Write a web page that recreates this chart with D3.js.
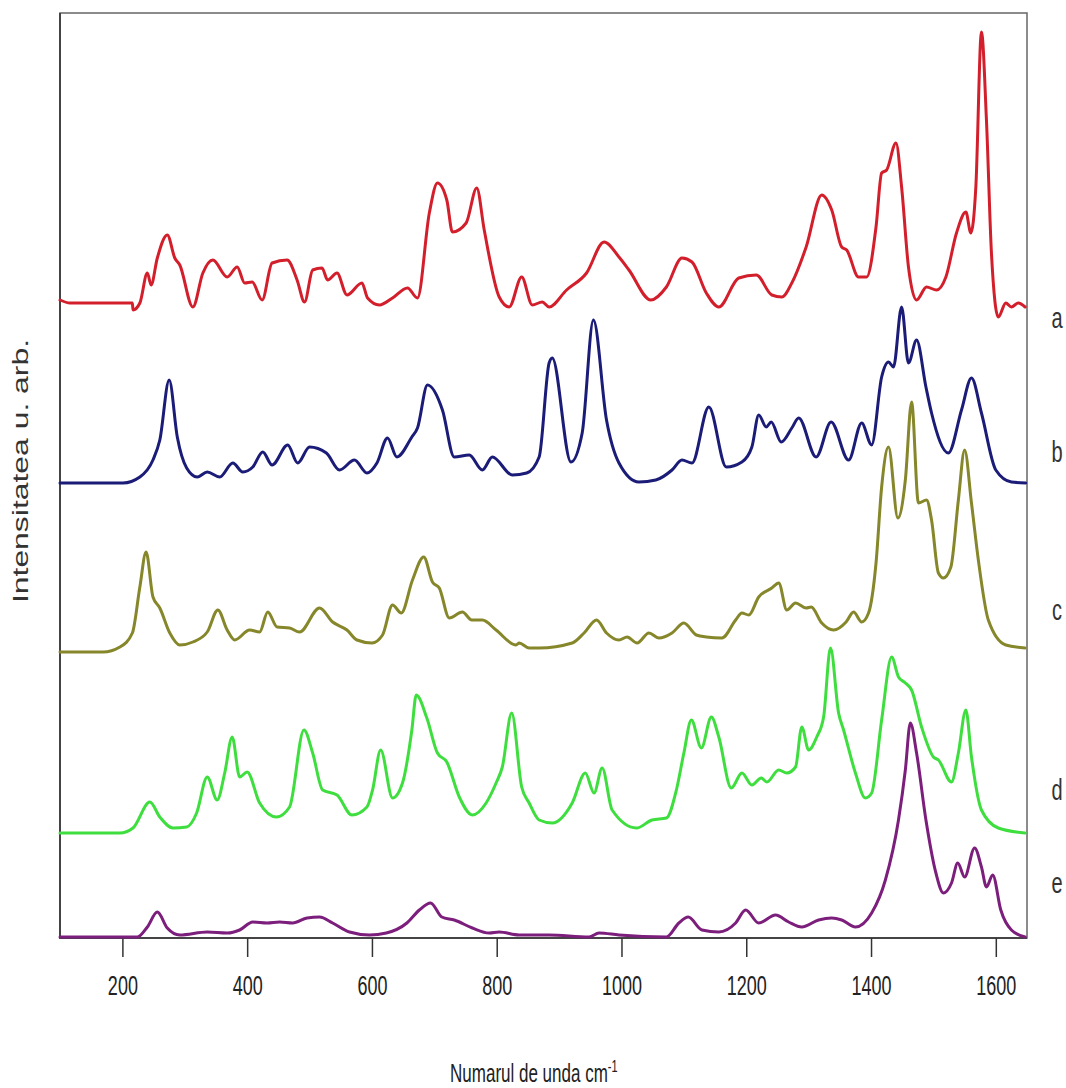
<!DOCTYPE html>
<html>
<head>
<meta charset="utf-8">
<script src="https://cdn.jsdelivr.net/npm/d3@7"></script>
<style>
  body { margin: 0; background: #fff; }
</style>
</head>
<body>
<div id="chart"></div>
<script>
// Raman spectra: [wavenumber cm-1, intensity a.u.]
const specA = [[100,0.3],[116,0],[216,0],[217,-0.7],[228,0],[240,3.0],[246,1.8],[256,4.5],[272,6.8],[284,4.5],[292,3.8],[313,-0.4],[329,3.0],[345,4.3],[368,2.6],[384,3.6],[396,2.0],[408,2.1],[424,0.3],[440,4.0],[464,4.3],[480,2.3],[492,0.1],[505,3.3],[520,3.5],[529,2.3],[544,3.0],[560,0.8],[584,2.0],[593,0.5],[612,-0.2],[633,0.5],[657,1.5],[673,0.5],[692,9.0],[705,12.0],[720,10.3],[729,7.1],[751,8.0],[768,11.5],[780,7.3],[804,0.6],[820,-0.4],[840,2.6],[857,-0.2],[873,0.1],[884,-0.4],[912,1.3],[944,3.0],[972,6.1],[996,4.6],[1012,3.3],[1047,0.3],[1072,1.6],[1097,4.5],[1113,4.1],[1136,1.0],[1156,-0.4],[1188,2.5],[1216,2.8],[1241,0.8],[1257,0.6],[1273,2.0],[1296,5.6],[1321,10.8],[1337,9.3],[1353,5.6],[1361,5.3],[1380,2.6],[1393,2.6],[1408,7.6],[1417,13.0],[1425,13.3],[1440,16.0],[1449,11.6],[1460,3.6],[1473,0.3],[1489,1.6],[1505,1.3],[1520,2.6],[1537,7.0],[1552,9.1],[1560,7.0],[1568,11.6],[1577,27.1],[1585,18.3],[1593,5.0],[1604,-1.4],[1616,0],[1625,-0.4],[1636,0],[1647,-0.4]]

const specB = [[100,0],[201,0],[228,0.6],[249,2.3],[260,4.3],[275,10.3],[288,4.6],[303,1.5],[320,0.6],[336,1.1],[356,0.6],[377,2.0],[393,1.1],[409,1.6],[425,3.1],[440,1.8],[465,3.8],[481,2.0],[500,3.6],[527,3.0],[548,1.3],[572,2.3],[592,1.0],[608,2.0],[625,4.5],[640,2.6],[664,4.6],[673,5.5],[689,9.8],[713,7.3],[732,2.6],[756,2.8],[777,1.3],[793,2.6],[825,0.8],[848,1.0],[868,2.6],[884,12.0],[889,12.5],[919,2.1],[937,5.0],[955,16.3],[976,6.3],[996,2.0],[1028,0.1],[1055,0.3],[1081,1.3],[1097,2.3],[1113,2.0],[1140,7.6],[1168,1.6],[1193,2.1],[1209,3.6],[1220,6.8],[1232,5.6],[1240,6.1],[1256,4.1],[1273,5.5],[1284,6.5],[1312,2.6],[1336,6.1],[1364,2.3],[1385,6.0],[1401,3.8],[1417,10.6],[1428,12.1],[1436,11.6],[1449,17.6],[1460,12.0],[1473,14.3],[1488,9.6],[1497,7.0],[1524,3.0],[1545,7.3],[1561,10.5],[1577,7.0],[1600,1.3],[1625,0.1],[1648,0]]

const specC = [[100,0],[169,0],[196,0.5],[216,1.9],[228,6.5],[238,10.0],[249,5.5],[260,4.4],[276,1.9],[292,0.7],[313,1.0],[336,2.0],[353,4.2],[368,2.2],[380,1.2],[404,2.2],[420,2.0],[433,4.0],[448,2.5],[468,2.4],[484,2.0],[516,4.4],[537,3.0],[560,2.2],[576,1.2],[600,0.9],[617,1.7],[633,4.7],[647,3.9],[665,7.2],[683,9.5],[697,7.0],[708,6.4],[724,3.4],[745,4.0],[760,3.2],[777,3.2],[799,2.2],[831,0.7],[836,0.9],[852,0.4],[868,0.4],[921,0.9],[940,1.9],[960,3.2],[976,1.9],[996,1.2],[1009,1.5],[1025,0.9],[1044,1.9],[1060,1.4],[1081,1.9],[1100,2.9],[1120,1.7],[1136,1.5],[1161,1.4],[1183,3.2],[1193,3.9],[1204,3.7],[1220,5.5],[1241,6.4],[1252,6.9],[1265,4.2],[1279,4.9],[1296,4.4],[1304,4.5],[1321,2.9],[1340,2.2],[1360,3.0],[1372,4.0],[1385,3.0],[1396,3.9],[1408,8.9],[1417,16.5],[1428,20.5],[1443,13.4],[1455,17.2],[1465,25.0],[1476,14.9],[1489,15.2],[1497,13.2],[1508,7.9],[1516,7.4],[1528,8.5],[1540,15.2],[1550,20.2],[1561,14.9],[1572,9.2],[1588,3.2],[1616,0.7],[1647,0.4]]

const specD = [[100,0],[196,0],[217,0.5],[244,3.1],[260,1.6],[281,0.5],[303,0.6],[319,2.0],[336,5.6],[352,3.3],[364,6.0],[376,9.6],[388,5.6],[400,6.1],[420,3.0],[447,1.6],[468,2.6],[491,10.3],[505,8.0],[521,4.3],[544,3.8],[568,1.8],[592,2.6],[601,4.3],[614,8.3],[633,3.5],[649,5.0],[664,10.3],[671,13.8],[688,11.5],[705,8.0],[720,7.1],[740,3.6],[761,1.8],[783,3.0],[799,5.0],[809,6.6],[824,12.0],[840,4.6],[852,3.0],[868,1.3],[889,1.0],[921,3.0],[942,6.0],[956,4.0],[969,6.5],[985,2.3],[1024,0.5],[1049,1.3],[1072,1.5],[1088,4.3],[1100,8.0],[1112,11.3],[1128,8.5],[1144,11.6],[1156,9.6],[1176,4.5],[1193,6.0],[1209,4.8],[1224,5.5],[1233,5.1],[1252,6.3],[1265,6.0],[1279,6.6],[1289,10.6],[1300,8.3],[1313,9.6],[1324,11.6],[1335,18.5],[1348,12.0],[1356,10.3],[1375,6.0],[1391,3.5],[1401,4.0],[1417,11.3],[1433,17.6],[1444,15.6],[1455,15.0],[1465,14.3],[1481,10.6],[1500,7.6],[1508,7.3],[1529,5.1],[1540,8.0],[1552,12.3],[1561,7.6],[1577,2.3],[1604,0.5],[1647,0]]

const specE = [[100,0],[224,0],[240,1.0],[256,2.5],[272,0.9],[292,0.2],[336,0.5],[368,0.4],[388,0.7],[409,1.5],[432,1.4],[452,1.5],[473,1.4],[496,1.9],[516,2.0],[537,1.4],[564,0.5],[596,0.2],[623,0.4],[656,1.4],[676,2.7],[694,3.4],[712,2.0],[732,1.7],[761,0.9],[788,0.4],[804,0.5],[836,0.2],[884,0.2],[948,0],[964,0.4],[996,0.2],[1072,0],[1092,1.4],[1107,2.0],[1129,0.7],[1156,0.5],[1183,1.4],[1199,2.7],[1220,1.4],[1247,2.2],[1268,1.5],[1289,1.0],[1316,1.7],[1337,1.9],[1353,1.7],[1375,1.0],[1401,2.4],[1423,5.7],[1444,11.7],[1455,16.7],[1463,21.4],[1473,18.4],[1488,11.7],[1504,6.4],[1516,4.4],[1529,5.4],[1539,7.4],[1550,6.0],[1566,8.9],[1577,7.0],[1585,5.0],[1595,6.2],[1608,2.7],[1625,0.7],[1647,0]]

const seriesNames = ['a', 'b', 'c', 'd', 'e']
// vertical shift of each spectrum (stacked plot)
const seriesOffsets = [63.5, 45.5, 28.6, 10.5, 0.1]
// where the letter sits, in intensity units of the stacked plot
const labelLevels = [61.0, 47.6, 31.8, 13.8, 4.5]
const xTicks = [200, 400, 600, 800, 1000, 1200, 1400, 1600]

const margin = { top: 13, left: 60, right: 39, bottom: 150 }
const width = 1066 - margin.left - margin.right
const height = 1088 - margin.top - margin.bottom

const colors = ['#d21f2b', '#1b1b78', '#86862a', '#3ede3e', '#7c1e7c']
const spectra = [specA, specB, specC, specD, specE]

const svg = d3
  .select('#chart')
  .append('svg')
  .attr('width', 1066)
  .attr('height', 1088)
  .style('font-family', '"Liberation Sans", Arial, sans-serif')
  .append('g')
  .attr('transform', 'translate(' + margin.left + ',' + margin.top + ')')

const xPositionScale = d3.scaleLinear().domain([100, 1650]).range([0, width])
const yPositionScale = d3.scaleLinear().domain([0, 92.5]).range([height, 0])

// frame
svg
  .append('rect')
  .attr('width', width)
  .attr('height', height)
  .attr('fill', 'none')
  .attr('stroke', '#666')
  .attr('stroke-width', 1.5)

svg
  .append('path')
  .attr('d', 'M0,0V' + height + 'H' + width)
  .attr('fill', 'none')
  .attr('stroke', '#444')
  .attr('stroke-width', 2)

// x axis
const xAxis = d3
  .axisBottom(xPositionScale)
  .tickValues(xTicks)
  .tickSize(19)
  .tickFormat(d3.format('d'))

const xAxisG = svg
  .append('g')
  .attr('class', 'x-axis')
  .attr('transform', 'translate(0,' + height + ')')
  .call(xAxis)

xAxisG.select('.domain').remove()
xAxisG.selectAll('line').attr('stroke', '#333').attr('stroke-width', 1.5)
xAxisG
  .selectAll('text')
  .attr('y', null)
  .attr('dy', null)
  .attr('fill', '#222')
  .attr('font-size', 18)
  .attr('transform', 'translate(0,57) scale(1,1.5)')

// axis titles
const xTitle = svg
  .append('text')
  .attr('text-anchor', 'middle')
  .attr('fill', '#222')
  .attr('font-size', 17)
  .attr('transform', 'translate(' + width * 0.49 + ',' + (height + 144) + ') scale(1,1.5)')

xTitle.append('tspan').text('Numarul de unda cm')
xTitle
  .append('tspan')
  .attr('font-size', 11)
  .attr('dy', -7)
  .text('-1')

svg
  .append('text')
  .attr('text-anchor', 'middle')
  .attr('fill', '#333')
  .attr('font-size', 22)
  .attr('transform', 'translate(-32,458) scale(1,1.45) rotate(-90)')
  .text('Intensitatea u. arb.')

// spectra
spectra.forEach(function (spec, i) {
  const line = d3
    .line()
    .curve(d3.curveMonotoneX)
    .x(d => xPositionScale(d[0]))
    .y(d => yPositionScale(d[1] + seriesOffsets[i]))

  svg
    .append('path')
    .datum(spec)
    .attr('d', line)
    .attr('fill', 'none')
    .attr('stroke', colors[i])
    .attr('stroke-width', 3)
    .attr('stroke-linejoin', 'round')
    .attr('stroke-linecap', 'round')
})

// series letters on the right
svg
  .selectAll('.series-label')
  .data(seriesNames)
  .enter()
  .append('text')
  .attr('class', 'series-label')
  .attr('text-anchor', 'middle')
  .attr('fill', '#333')
  .attr('font-size', 20)
  .attr('transform', (d, i) => 'translate(' + (width + 30) + ',' + yPositionScale(labelLevels[i]) + ') scale(1,1.45)')
  .text(d => d)
</script>
</body>
</html>
